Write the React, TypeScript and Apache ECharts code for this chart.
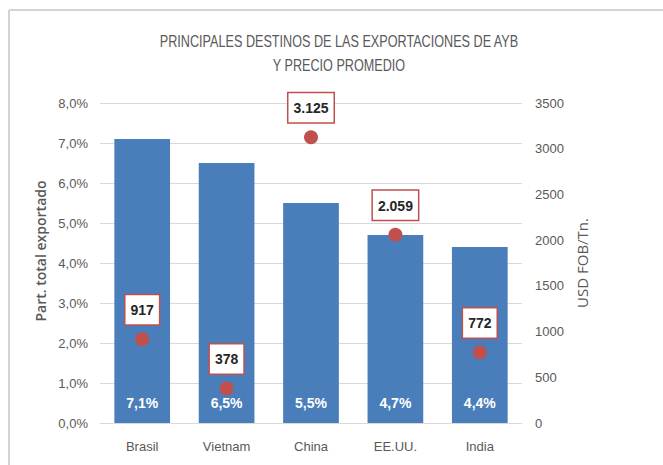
import React, { useEffect, useRef } from "react";
import * as echarts from "echarts";

const categories = ["Brasil", "Vietnam", "China", "EE.UU.", "India"];
const shareValues = [7.1, 6.5, 5.5, 4.7, 4.4];
const priceValues = [917, 378, 3125, 2059, 772];
const titleLines = ["PRINCIPALES DESTINOS DE LAS EXPORTACIONES DE AYB", "Y PRECIO PROMEDIO"];

const FONT = "'Liberation Sans', Arial, sans-serif";
const GRAY = "#595959";

function fmtThousands(v: number): string {
  return String(Math.round(v)).replace(/\B(?=(\d{3})+(?!\d))/g, ".");
}

export default function App() {
  const ref = useRef<HTMLDivElement>(null);
  useEffect(() => {
    if (!ref.current) return;
    const chart = echarts.init(ref.current, undefined, { renderer: "svg" });
    chart.setOption({
      animation: false,
      backgroundColor: "#ffffff",
      graphic: [
        { type: "line", shape: { x1: 9, y1: 10, x2: 663, y2: 10 }, style: { stroke: "#d4d4d4", lineWidth: 2 } },
        { type: "line", shape: { x1: 9, y1: 10, x2: 9, y2: 465 }, style: { stroke: "#d4d4d4", lineWidth: 2 } },
        {
          type: "text",
          x: 339,
          y: 41,
          scaleX: 0.79,
          style: {
            text: titleLines[0],
            fill: GRAY,
            font: "16px " + FONT,
            textAlign: "center",
            textVerticalAlign: "middle",
          },
        },
        {
          type: "text",
          x: 339,
          y: 65,
          scaleX: 0.79,
          style: {
            text: titleLines[1],
            fill: GRAY,
            font: "16px " + FONT,
            textAlign: "center",
            textVerticalAlign: "middle",
          },
        },
      ],
      grid: { left: 100, right: 141, top: 103, bottom: 42, containLabel: false },
      xAxis: {
        type: "category",
        data: categories,
        axisTick: { show: false },
        axisLine: { show: true, lineStyle: { color: "#d9d9d9", width: 1 } },
        axisLabel: { color: GRAY, fontFamily: FONT, fontSize: 13, margin: 17 },
      },
      yAxis: [
        {
          type: "value",
          min: 0,
          max: 8,
          interval: 1,
          position: "left",
          name: "Part. total exportado",
          nameLocation: "middle",
          nameRotate: 90,
          nameGap: 46,
          nameTextStyle: {
            color: GRAY,
            fontFamily: "'Open Sans', sans-serif",
            fontSize: 14,
            fontWeight: 600,
            padding: [0, 0, 0, 24],
          },
          axisLine: { show: false },
          axisTick: { show: false },
          axisLabel: {
            color: GRAY,
            fontFamily: FONT,
            fontSize: 13,
            margin: 12,
            formatter: (v: number) => v.toFixed(1).replace(".", ",") + "%",
          },
          splitLine: { show: true, lineStyle: { color: "#d9d9d9", width: 1 } },
        },
        {
          type: "value",
          min: 0,
          max: 3500,
          interval: 500,
          position: "right",
          name: "USD FOB/Tn.",
          nameLocation: "middle",
          nameRotate: 90,
          nameGap: 47,
          nameTextStyle: { color: GRAY, fontFamily: "'Open Sans', sans-serif", fontSize: 15 },
          axisLine: { show: false },
          axisTick: { show: false },
          axisLabel: {
            color: GRAY,
            fontFamily: FONT,
            fontSize: 13,
            margin: 13,
            formatter: (v: number) => String(v),
          },
          splitLine: { show: false },
        },
      ],
      series: [
        {
          type: "bar",
          data: shareValues,
          yAxisIndex: 0,
          barWidth: "66%",
          itemStyle: { color: "#4a7ebb" },
          label: {
            show: true,
            position: "insideBottom",
            distance: 13,
            color: "#ffffff",
            fontFamily: FONT,
            fontSize: 14,
            fontWeight: "bold",
            formatter: (p: any) => p.value.toFixed(1).replace(".", ",") + "%",
          },
        },
        {
          type: "scatter",
          data: priceValues,
          yAxisIndex: 1,
          symbol: "circle",
          symbolSize: 14,
          itemStyle: { color: "#c0504d", opacity: 1 },
          label: {
            show: true,
            position: "top",
            distance: 8,
            color: "#262626",
            fontFamily: FONT,
            fontSize: 14,
            fontWeight: "bold",
            opacity: 1,
            backgroundColor: "#ffffff",
            borderColor: "#c0504d",
            borderWidth: 1.5,
            padding: [8, 5, 7, 5],
            formatter: (p: any) => fmtThousands(p.value),
          },
          z: 5,
        },
      ],
    });
    return () => chart.dispose();
  }, []);
  return (
    <div
      ref={ref}
      style={{ position: "fixed", left: 0, top: 0, width: 663, height: 465 }}
    />
  );
}
